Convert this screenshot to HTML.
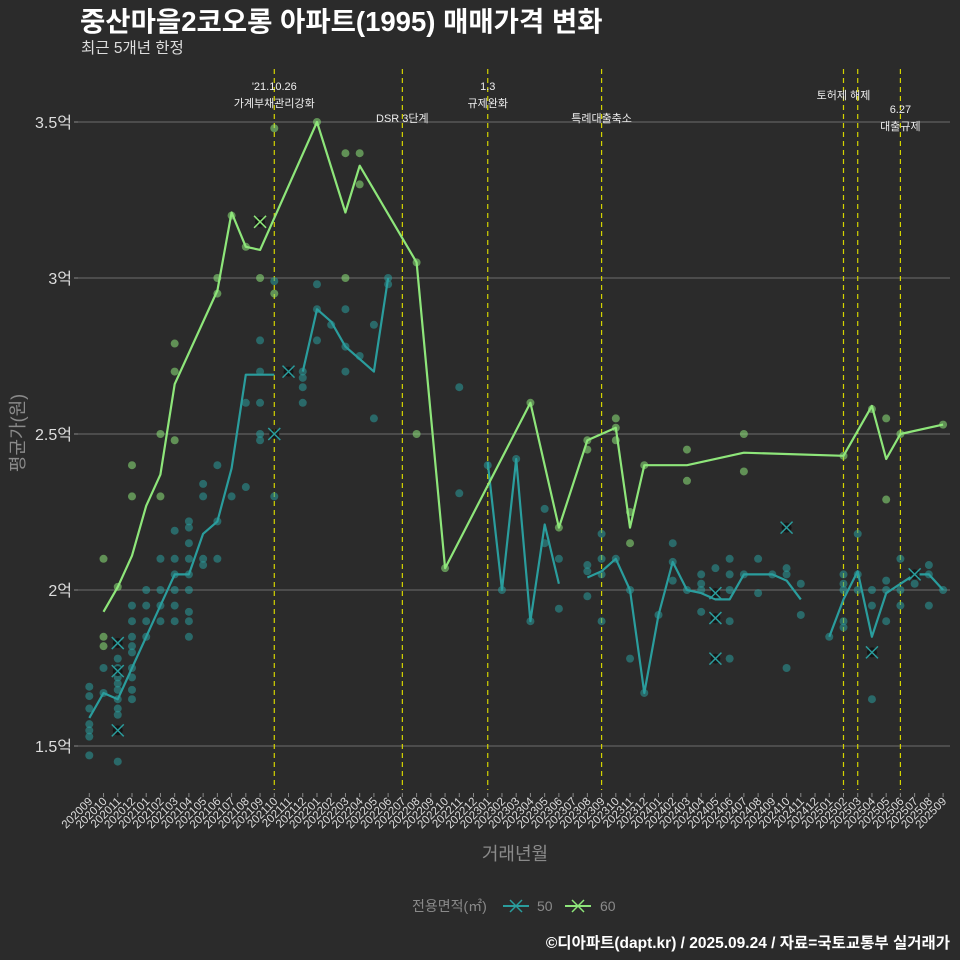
<!DOCTYPE html>
<html><head><meta charset="utf-8">
<style>
body{margin:0;background:#2b2b2b;}
svg{display:block;font-family:"Liberation Sans","Noto Sans CJK KR",sans-serif;}
</style></head>
<body>
<svg id="chart" width="960" height="960" viewBox="0 0 960 960" xmlns="http://www.w3.org/2000/svg">
<rect width="960" height="960" fill="#2b2b2b"/>
<text x="80" y="31" font-size="27.5" font-weight="bold" fill="#fff">중산마을2코오롱 아파트(1995) 매매가격 변화</text>
<text x="81" y="53" font-size="15.5" fill="#ddd">최근 5개년 한정</text>
<g id="grid"></g><g id="events"></g><g id="marks"></g><g id="axes"></g>
<text x="0" y="0" transform="translate(24,433) rotate(-90)" text-anchor="middle" font-size="18" fill="#8a8a8a">평균가(원)</text>
<text x="515" y="860" text-anchor="middle" font-size="18" fill="#8a8a8a">거래년월</text>
<g>
<text x="412" y="911" font-size="14" fill="#8a8a8a">전용면적(㎡)</text>
<g><line x1="503" y1="906" x2="529" y2="906" stroke="#2a9d9d" stroke-width="2"/><path d="M510 900 L522 912 M522 900 L510 912" stroke="#2a9d9d" stroke-width="1.5"/><text x="537" y="911" font-size="14" fill="#8a8a8a">50</text></g>
<g><line x1="565" y1="906" x2="591" y2="906" stroke="#8ee67a" stroke-width="2"/><path d="M572 900 L584 912 M584 900 L572 912" stroke="#8ee67a" stroke-width="1.5"/><text x="600" y="911" font-size="14" fill="#8a8a8a">60</text></g>
</g>
<text x="950" y="948" text-anchor="end" font-size="15.5" font-weight="bold" fill="#fff">©디아파트(dapt.kr) / 2025.09.24 / 자료=국토교통부 실거래가</text>
</svg>
<script>
const months=[];for(let y=2020,m=9;months.length<61;){months.push(y+String(m).padStart(2,'0'));m++;if(m>12){m=1;y++;}}
const yTicks=[1.5,2,2.5,3,3.5];
const yTickLabels=['1.5억','2억','2.5억','3억','3.5억'];
const line50=[[0,1.59],[1,1.67],[2,1.65],[3,1.75],[4,1.85],[5,1.95],[6,2.05],[7,2.05],[8,2.18],[9,2.22],[10,2.39],[11,2.69],[12,2.69],[13,2.69],null,[15,2.70],[16,2.90],[17,2.86],[18,2.78],[19,2.74],[20,2.70],[21,3.00],null,[28,2.41],[29,2.0],[30,2.42],[31,1.90],[32,2.21],[33,2.02],null,[35,2.04],[36,2.06],[37,2.10],[38,2.0],[39,1.67],[40,1.92],[41,2.09],[42,2.0],[43,1.99],[44,1.97],[45,1.97],[46,2.05],[47,2.05],[48,2.05],[49,2.03],[50,1.97],null,[52,1.85],[53,1.97],[54,2.06],[55,1.85],[56,1.99],[57,2.02],[58,2.05],[59,2.05],[60,2.0]];
const line60=[[1,1.93],[2,2.01],[3,2.11],[4,2.27],[5,2.37],[6,2.66],[9,2.96],[10,3.21],[11,3.10],[12,3.09],[16,3.5],[18,3.21],[19,3.36],[23,3.05],[25,2.07],[31,2.60],[33,2.20],[35,2.48],[37,2.52],[38,2.20],[39,2.40],[42,2.40],[46,2.44],[53,2.43],[55,2.59],[56,2.42],[57,2.50],[60,2.53]];
const pts50=[[0,1.69],[0,1.66],[0,1.62],[0,1.57],[0,1.55],[0,1.53],[0,1.47],[1,1.75],[1,1.67],[2,1.78],[2,1.75],[2,1.72],[2,1.70],[2,1.68],[2,1.65],[2,1.62],[2,1.60],[2,1.45],[3,1.95],[3,1.90],[3,1.85],[3,1.82],[3,1.80],[3,1.75],[3,1.72],[3,1.68],[3,1.65],[4,2.0],[4,1.95],[4,1.90],[4,1.85],[5,2.10],[5,2.0],[5,1.95],[5,1.90],[6,2.19],[6,2.10],[6,2.05],[6,2.0],[6,1.95],[6,1.90],[7,2.22],[7,2.20],[7,2.15],[7,2.10],[7,2.05],[7,2.0],[7,1.93],[7,1.90],[7,1.85],[8,2.34],[8,2.30],[8,2.10],[8,2.08],[9,2.40],[9,2.22],[9,2.10],[10,2.30],[11,2.60],[11,2.33],[12,2.80],[12,2.70],[12,2.60],[12,2.50],[12,2.48],[13,2.99],[13,2.30],[15,2.70],[15,2.68],[15,2.65],[15,2.60],[16,2.98],[16,2.90],[16,2.80],[17,2.85],[18,2.90],[18,2.78],[18,2.70],[19,2.75],[20,2.85],[20,2.55],[21,3.0],[21,2.98],[26,2.65],[26,2.31],[28,2.40],[29,2.0],[30,2.42],[31,1.90],[32,2.26],[32,2.15],[33,2.10],[33,1.94],[35,2.08],[35,2.06],[35,1.98],[36,2.18],[36,2.10],[36,2.05],[36,1.90],[37,2.10],[38,2.0],[38,1.78],[39,1.67],[40,1.92],[41,2.15],[41,2.09],[41,2.03],[42,2.0],[43,2.05],[43,2.02],[43,2.0],[43,1.93],[44,2.07],[45,2.10],[45,2.05],[45,2.0],[45,1.90],[45,1.78],[46,2.05],[47,2.10],[47,1.99],[48,2.05],[49,2.07],[49,2.05],[49,1.75],[50,2.02],[50,1.92],[52,1.85],[53,2.05],[53,2.02],[53,2.0],[53,1.90],[53,1.88],[54,2.18],[54,2.05],[54,2.0],[55,2.0],[55,1.95],[55,1.65],[56,2.03],[56,2.0],[56,1.90],[57,2.10],[57,2.0],[57,1.95],[58,2.02],[59,2.08],[59,2.05],[59,1.95],[60,2.0]];
const x50=[[2,1.83],[2,1.74],[2,1.55],[13,2.5],[14,2.7],[44,1.99],[44,1.91],[44,1.78],[49,2.20],[55,1.80],[58,2.05]];
const pts60=[[1,2.10],[1,1.85],[1,1.82],[2,2.01],[3,2.40],[3,2.30],[5,2.50],[5,2.30],[6,2.79],[6,2.70],[6,2.48],[9,3.0],[9,2.95],[10,3.2],[11,3.1],[12,3.0],[13,3.48],[13,2.95],[16,3.5],[18,3.4],[18,3.0],[19,3.4],[19,3.3],[23,3.05],[23,2.5],[25,2.07],[31,2.6],[33,2.2],[35,2.48],[35,2.45],[37,2.55],[37,2.52],[37,2.48],[38,2.25],[38,2.15],[39,2.4],[42,2.45],[42,2.35],[46,2.5],[46,2.38],[53,2.43],[55,2.58],[56,2.55],[56,2.29],[57,2.5],[60,2.53]];
const x60=[[12,3.18]];
const eventIdx=[13,22,28,36,53,54,57];
const eventLabels=[["'21.10.26","가계부채관리강화"],["DSR 3단계"],["1.3","규제완화"],["특례대출축소"],["토허제 해제"],[],["6.27","대출규제"]];
const eventLabelY=[[90,107],[122],[90,107],[122],[99],[],[113,130]];

const NS='http://www.w3.org/2000/svg';
const X=i=>89.3+i*14.23, Y=v=>590-(v-2)*312;
function mk(tag,attrs,parent){const e=document.createElementNS(NS,tag);for(const k in attrs)e.setAttribute(k,attrs[k]);parent.appendChild(e);return e;}
const grid=document.getElementById('grid'),axes=document.getElementById('axes'),ev=document.getElementById('events'),marks=document.getElementById('marks');
yTicks.forEach((t,k)=>{
 const l=mk('line',{x1:78,x2:950,y1:Y(t),y2:Y(t),stroke:'#6e6e6e','stroke-width':1},grid);
 
 
 const tk=mk('line',{x1:74,x2:78,y1:Y(t),y2:Y(t),stroke:'#888'},axes);
 
 
 const tx=mk('text',{x:72,y:Y(t)+6,'text-anchor':'end','font-size':16,fill:'#ddd'},axes);
 tx.textContent=yTickLabels[k];
 
 
});
months.forEach((m,i)=>{
 const tk=mk('line',{x1:X(i),x2:X(i),y1:793,y2:797,stroke:'#888'},axes);
 
 
 const tx=mk('text',{x:X(i)+4,y:802,'text-anchor':'end','font-size':11.5,fill:'#ddd',transform:`rotate(-45 ${X(i)+4} 802)`},axes);
 tx.textContent=m;
 
 
});
eventIdx.forEach((i,k)=>{
 const l=mk('line',{x1:X(i),x2:X(i),y1:69,y2:790,stroke:'#d4d400','stroke-width':1.2,'stroke-dasharray':'5,4'},ev);
 
 
 eventLabels[k].forEach((s,j)=>{
  const t=mk('text',{x:X(i),y:eventLabelY[k][j],'text-anchor':'middle','font-size':11,fill:'#eee'},ev);
  t.textContent=s;
  
  
 });
});
function dots(arr,col,name){arr.forEach(p=>{
 const c=mk('circle',{cx:X(p[0]),cy:Y(p[1]),r:4,fill:col,'fill-opacity':0.55},marks);
 
 
});}
function crosses(arr,col,name){arr.forEach(p=>{
 const x=X(p[0]),y=Y(p[1]);
 const g=mk('g',{},marks);
 
 
 mk('circle',{cx:x,cy:y,r:5,fill:'#111','fill-opacity':0.8},g);
 mk('path',{d:`M${x-6} ${y-6}L${x+6} ${y+6}M${x+6} ${y-6}L${x-6} ${y+6}`,stroke:col,'stroke-width':1.5},g);
});}
function line(arr,col,name){let d='',pen=false;arr.forEach(p=>{if(!p){pen=false;return;}d+=(pen?'L':'M')+X(p[0]).toFixed(1)+' '+Y(p[1]).toFixed(1);pen=true;});
 const e=mk('path',{d:d,fill:'none',stroke:col,'stroke-width':2.2,'stroke-linejoin':'round'},marks);
 
 
}
dots(pts50,'#2a9d9d','point-50');
dots(pts60,'#8ee67a','point-60');
line(line50,'#2a9d9d','line-50');
line(line60,'#8ee67a','line-60');
crosses(x50,'#2a9d9d','cancelled-50');
crosses(x60,'#8ee67a','cancelled-60');
</script>
</body></html>
